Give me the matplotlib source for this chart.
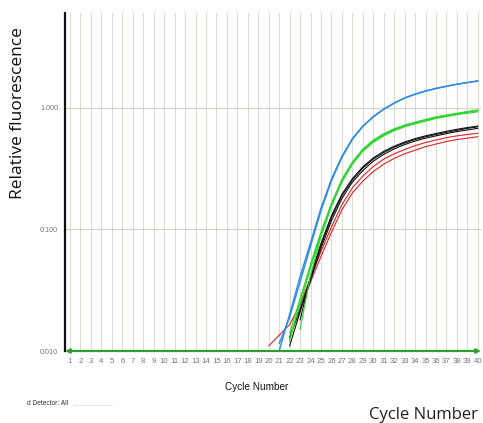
import matplotlib
matplotlib.use("Agg")
import matplotlib.pyplot as plt
import numpy as np

# ---------------- data ----------------
cycles = list(range(1, 41))
y_ticks = [0.01, 0.1, 1.0]
y_tick_labels = ["0.010", "0.100", "1.000"]

blue_a_x = list(range(21, 41))
blue_a = [0.010, 0.020, 0.041, 0.078, 0.150, 0.260, 0.400, 0.560, 0.710, 0.850,
          0.980, 1.100, 1.210, 1.300, 1.380, 1.450, 1.510, 1.570, 1.620, 1.670]
blue_b_x = list(range(21, 41))
blue_b = [0.0115, 0.019, 0.037, 0.073, 0.143, 0.252, 0.392, 0.552, 0.705, 0.845,
          0.975, 1.095, 1.205, 1.297, 1.377, 1.447, 1.508, 1.568, 1.618, 1.668]

green_a_x = list(range(22, 41))
green_a = [0.014, 0.027, 0.050, 0.092, 0.160, 0.250, 0.350, 0.450, 0.530, 0.600,
           0.660, 0.710, 0.750, 0.790, 0.830, 0.860, 0.890, 0.920, 0.950]
green_b_x = list(range(23, 41))
green_b = [0.015, 0.042, 0.088, 0.155, 0.245, 0.345, 0.440, 0.520, 0.590, 0.650,
           0.700, 0.740, 0.780, 0.820, 0.850, 0.880, 0.905, 0.930]
green_c_x = list(range(22, 41))
green_c = [0.012, 0.026, 0.052, 0.096, 0.165, 0.260, 0.360, 0.460, 0.545, 0.615,
           0.675, 0.725, 0.765, 0.805, 0.845, 0.875, 0.905, 0.935, 0.965]
green_d_x = list(range(22, 41))
green_d = [0.0125, 0.024, 0.048, 0.090, 0.158, 0.252, 0.352, 0.452, 0.535, 0.605,
           0.665, 0.715, 0.757, 0.797, 0.837, 0.867, 0.897, 0.927, 0.957]

black_a_x = list(range(22, 41))
black_a = [0.013, 0.022, 0.040, 0.074, 0.125, 0.190, 0.255, 0.320, 0.380, 0.430,
           0.475, 0.515, 0.550, 0.580, 0.605, 0.630, 0.655, 0.680, 0.700]
black_b_x = list(range(22, 41))
black_b = [0.011, 0.021, 0.038, 0.070, 0.118, 0.180, 0.245, 0.305, 0.365, 0.415,
           0.460, 0.500, 0.535, 0.565, 0.590, 0.615, 0.640, 0.660, 0.680]
black_c_x = list(range(23, 41))
black_c = [0.018, 0.041, 0.077, 0.130, 0.195, 0.262, 0.328, 0.388, 0.440, 0.485,
           0.525, 0.560, 0.590, 0.617, 0.643, 0.668, 0.690, 0.710]

red_a_x = list(range(20, 41))
red_a = [0.011, 0.0135, 0.0165, 0.024, 0.040, 0.066, 0.105, 0.160, 0.220, 0.275,
         0.330, 0.380, 0.420, 0.455, 0.490, 0.520, 0.545, 0.570, 0.590, 0.605, 0.620]
red_b_x = list(range(22, 41))
red_b = [0.013, 0.022, 0.037, 0.060, 0.095, 0.145, 0.200, 0.250, 0.300, 0.345,
         0.385, 0.420, 0.450, 0.480, 0.505, 0.530, 0.550, 0.565, 0.580]

threshold = 0.01

BLUE = "#2b8be6"
GREEN = "#2fd62f"
BLACK = "#111111"
RED = "#e02222"

# ---------------- figure ----------------
W, H = 483, 423
fig = plt.figure(figsize=(W / 100, H / 100), dpi=100)
ax = fig.add_axes([65 / W, 1 - 351 / H, (481 - 65) / W, (351 - 13) / H])

ax.set_yscale("log")
ax.set_xlim(0.52, 40.3)
ax.set_ylim(0.01, 6.05)

ax.set_xticks(cycles)
ax.set_xticklabels([str(c) for c in cycles], fontsize=5.6, color="#777777",
                   family="Liberation Sans")
ax.set_yticks(y_ticks)
ax.set_yticklabels(y_tick_labels, fontsize=5.2, color="#777777",
                   family="Liberation Sans")
ax.yaxis.set_minor_locator(matplotlib.ticker.NullLocator())
ax.tick_params(axis="both", length=0)
ax.tick_params(axis="x", pad=5)
ax.tick_params(axis="y", pad=5)

ax.grid(True, axis="x", color="#dcdcd4", linewidth=0.75)
ax.grid(True, axis="y", which="major", color="#d2d2c8", linewidth=0.8)
ax.set_axisbelow(True)

for s in ["top", "right", "bottom"]:
    ax.spines[s].set_visible(False)
ax.spines["left"].set_linewidth(1.6)
ax.spines["left"].set_color("#111111")

series = [
    (red_a_x, red_a, RED, 0.8), (red_b_x, red_b, RED, 0.8),
    (black_a_x, black_a, BLACK, 0.8), (black_b_x, black_b, BLACK, 0.8),
    (black_c_x, black_c, BLACK, 0.8),
    (green_a_x, green_a, GREEN, 0.8), (green_b_x, green_b, GREEN, 0.8),
    (green_c_x, green_c, GREEN, 0.8), (green_d_x, green_d, GREEN, 0.8),
    (blue_a_x, blue_a, BLUE, 1.0), (blue_b_x, blue_b, BLUE, 1.0),
]
for xs, ys, col, lw in series:
    ax.plot(xs, ys, color=col, linewidth=lw, solid_capstyle="round", zorder=3)

# threshold line with arrowheads
ax.annotate("", xy=(ax.get_xlim()[0], threshold), xytext=(ax.get_xlim()[1], threshold),
            xycoords="data",
            arrowprops=dict(arrowstyle="<|-|>", color="#2e9e2e", lw=1.6,
                            mutation_scale=6, shrinkA=0, shrinkB=0),
            annotation_clip=False, zorder=4)

# texts
fig.text(18 / W, 1 - 113 / H, "Relative fluorescence", rotation=90,
         ha="center", va="center", fontsize=12.5, family="Open Sans", color="#111111")
fig.text(478 / W, 1 - 415 / H, "Cycle Number", ha="right", va="center",
         fontsize=12, family="Open Sans", color="#222222")
fig.text(257 / W, 1 - 387 / H, "Cycle Number", ha="center", va="center",
         fontsize=7.2, family="Liberation Sans", color="#111111")
fig.text(27 / W, 1 - 403 / H, "d Detector: All", ha="left", va="center",
         fontsize=4.8, family="Liberation Sans", color="#333333")
fig.add_artist(plt.Line2D([73 / W, 112 / W], [1 - 405 / H, 1 - 405 / H],
                          transform=fig.transFigure, color="#cccccc",
                          linewidth=0.6, linestyle=(0, (1, 1))))

fig.savefig("out.png", dpi=100)
